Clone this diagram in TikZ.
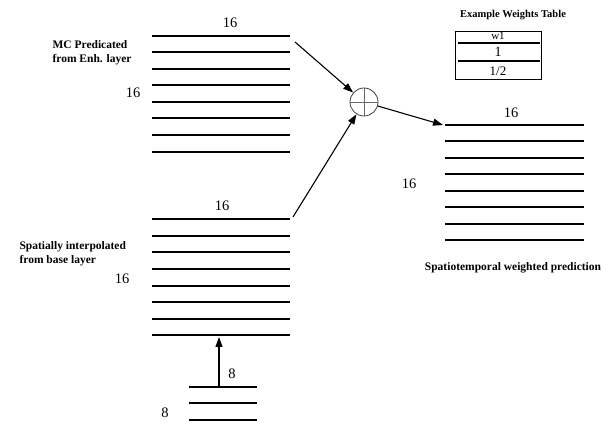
\documentclass[tikz,border=0pt]{standalone}
\usepackage{fontspec}
\setmainfont{Liberation Serif}
\usetikzlibrary{positioning,arrows.meta}

\begin{document}
\begin{tikzpicture}[x=1pt,y=-1pt,>={Triangle[length=10pt,width=7pt]},line width=1.1pt,
    lbl/.style={font=\bfseries\fontsize{11.5}{14}\selectfont,align=left,inner sep=0pt},
    num/.style={font=\fontsize{14.5}{16}\selectfont,inner sep=0pt},
    row/.style={line width=1.5pt},
    sum node/.style={circle,draw=black!75,line width=0.8pt,minimum size=28pt,inner sep=0pt}]
\useasboundingbox (0,0) rectangle (608,435);

% enhancement layer prediction
\foreach \y in {36,52,69,85,102,118,135,152}
    \draw[row] (152,\y) -- (290,\y);
\coordinate (mcTop) at (295,42);
\node[num] (mcW) at (230,23) {16};
\node[num] (mcH) at (133,93) {16};
\node[lbl,anchor=west] (mcLbl) at (52,53) {MC Predicated\\from Enh. layer};

% spatially interpolated block
\foreach \y in {219,236,252,269,286,302,319,335}
    \draw[row] (152,\y) -- (290,\y);
\coordinate (siTop) at (293,217);
\coordinate (siBot) at (219,337);
\node[num] (siW) at (222,206) {16};
\node[num] (siH) at (122,279) {16};
\node[lbl,anchor=west] (siLbl) at (19,254) {Spatially interpolated\\from base layer};

% base layer block
\foreach \y in {387,403,420}
    \draw[row] (189,\y) -- (257,\y);
\coordinate (baseTop) at (219,387);
\node[num] (baseW) at (232,374) {8};
\node[num] (baseH) at (165,413) {8};

% adder
\node[sum node] (sum) at (364,102) {};
\draw[black!60,line width=0.8pt] (sum.north) -- (sum.south) (sum.west) -- (sum.east);

% weighted prediction
\foreach \y in {125,141,158,174,191,207,224,240}
    \draw[row] (445,\y) -- (584,\y);
\coordinate (predTop) at (443,125);
\node[num] (predW) at (511,113) {16};
\node[num] (predH) at (409,184) {16};
\node[lbl] (predLbl) at (513,268) {Spatiotemporal weighted prediction};

% weights table
\node[lbl,font=\bfseries\fontsize{10.5}{12}\selectfont] (tblTitle) at (513,15) {Example Weights Table};
\draw[line width=0.8pt] (455,31) rectangle (541,79);
\draw[row] (458,43) -- (540,43) (458,61) -- (540,61);
\node[font=\fontsize{11}{12}\selectfont,inner sep=0pt] (w1) at (498,36) {w1};
\node[font=\fontsize{14}{15}\selectfont,inner sep=0pt] (wa) at (498,52) {1};
\node[font=\fontsize{13}{14}\selectfont,inner sep=0pt] (wb) at (498,71) {1/2};

\draw[->] (mcTop) -- (sum);
\draw[->] (siTop) -- (sum);
\draw[->] (sum) -- (predTop);
\draw[->] (baseTop) -- (siBot);
\end{tikzpicture}
\end{document}
